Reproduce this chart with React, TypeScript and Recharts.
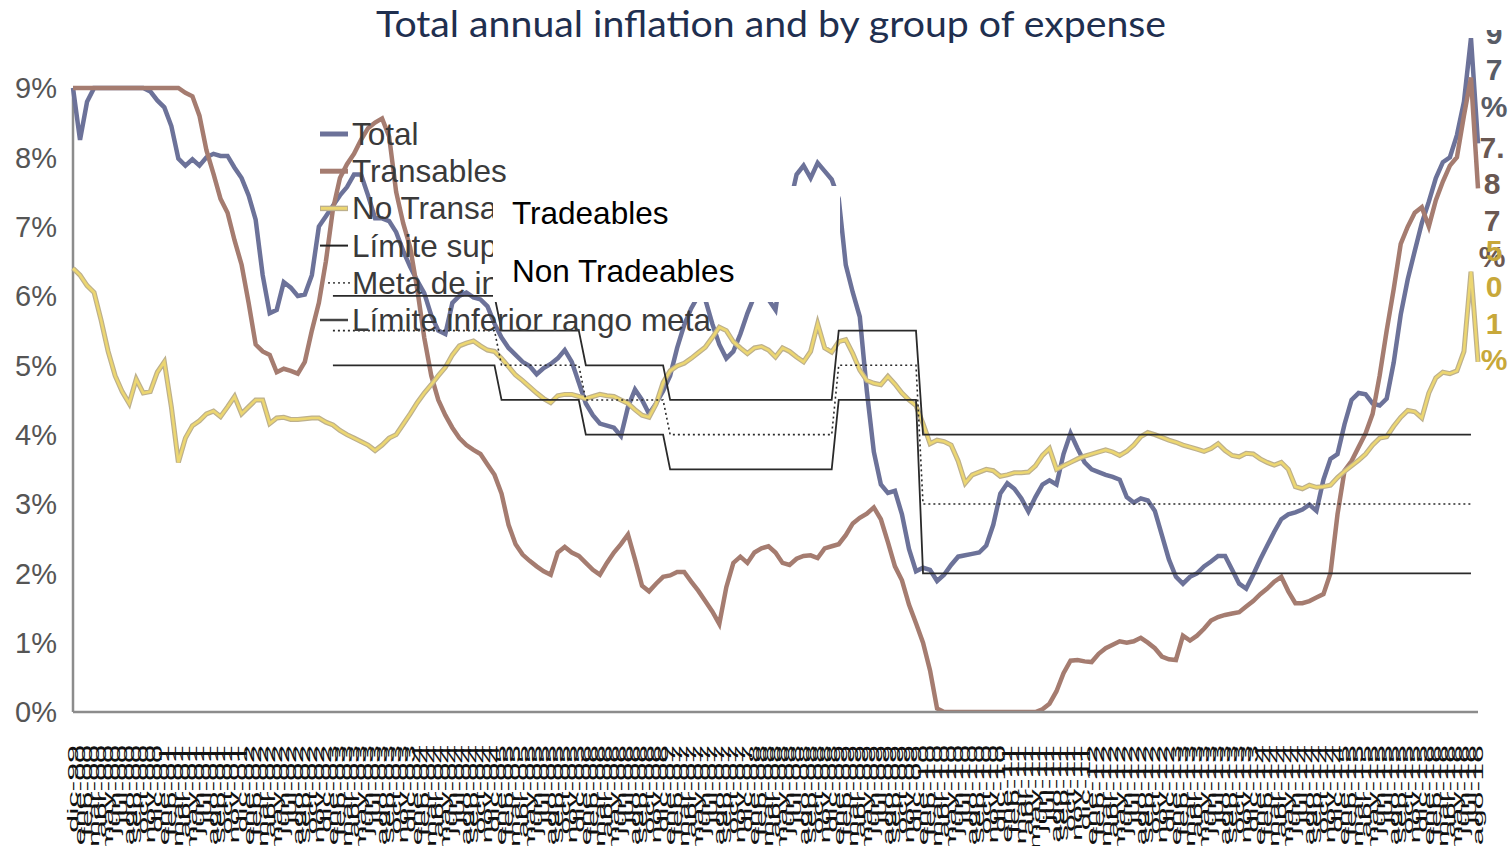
import React from 'react';
import { LineChart, Line, XAxis, YAxis, ReferenceLine } from 'recharts';

// ---------- data ----------
const MONTHS_ES = ['ene', 'feb', 'mar', 'abr', 'may', 'jun', 'jul', 'ago', 'sep', 'oct', 'nov', 'dic'];
const START_YEAR = 1999;
const START_MONTH = 11; // dic-99
const N_MONTHS = 201; // dic-99 .. ago-16

const monthLabels: string[] = Array.from({ length: N_MONTHS }, (_, i) => {
  const m = (START_MONTH + i) % 12;
  const y = START_YEAR + Math.floor((START_MONTH + i) / 12);
  return `${MONTHS_ES[m]}-${String(y % 100).padStart(2, '0')}`;
});

const total = [
  9.0, 8.25, 8.8, 9.0, 9.0, 9.0, 9.0, 9.0, 9.0, 9.0,
  9.0, 8.95, 8.82, 8.72, 8.45, 7.98, 7.88, 7.97, 7.88, 8.0,
  8.05, 8.02, 8.02, 7.85, 7.7, 7.45, 7.1, 6.3, 5.75, 5.8,
  6.2, 6.12, 6.0, 6.02, 6.3, 7.0, 7.15, 7.3, 7.45, 7.57,
  7.75, 7.75, 7.45, 7.12, 7.12, 7.08, 6.92, 6.65, 6.42, 6.22,
  6.04, 5.72, 5.5, 5.45, 5.9, 6.0, 6.05, 5.98, 5.95, 5.85,
  5.6, 5.4, 5.25, 5.15, 5.05, 4.99, 4.87, 4.96, 5.02, 5.1,
  5.22, 5.05, 4.75, 4.45, 4.28, 4.16, 4.13, 4.1, 3.98, 4.4,
  4.65, 4.5, 4.3, 4.45, 4.63, 4.85, 5.25, 5.58, 5.82, 6.0,
  5.95, 5.6, 5.3, 5.1, 5.2, 5.45, 5.75, 6.0, 6.2, 5.95,
  5.8, 6.5, 7.3, 7.75, 7.88, 7.7, 7.92, 7.8, 7.68, 7.4,
  6.45, 6.05, 5.7, 4.63, 3.75, 3.28, 3.16, 3.19, 2.85, 2.35,
  2.03, 2.08, 2.05, 1.89, 1.98, 2.12, 2.24, 2.26, 2.28, 2.3,
  2.4, 2.7, 3.15, 3.3, 3.22, 3.08, 2.89, 3.1, 3.28, 3.34,
  3.28, 3.72, 4.02, 3.8, 3.6, 3.5, 3.46, 3.42, 3.39, 3.35,
  3.1, 3.02, 3.08, 3.05, 2.9, 2.55, 2.2, 1.95, 1.85, 1.95,
  2.0, 2.1, 2.17, 2.25, 2.25, 2.05, 1.85, 1.78, 1.98, 2.2,
  2.4, 2.6, 2.78, 2.85, 2.88, 2.92, 2.99, 2.9, 3.35, 3.65,
  3.72, 4.15, 4.5, 4.6, 4.58, 4.45, 4.42, 4.52, 5.04, 5.73,
  6.24, 6.65, 7.05, 7.36, 7.7, 7.93, 8.0, 8.32, 8.8, 9.72,
  8.2,
];

const transables = [
  9, 9, 9, 9, 9, 9, 9, 9, 9, 9,
  9, 9, 9, 9, 9, 9, 8.93, 8.88, 8.6, 8.1,
  7.76, 7.4, 7.2, 6.8, 6.45, 5.9, 5.3, 5.2, 5.15, 4.9,
  4.95, 4.92, 4.88, 5.05, 5.5, 5.9, 6.5, 7.25, 7.7, 7.9,
  8.05, 8.25, 8.42, 8.5, 8.56, 8.3, 7.5, 7.05, 6.7, 6.1,
  5.4, 4.85, 4.5, 4.28, 4.1, 3.95, 3.85, 3.78, 3.72, 3.57,
  3.42, 3.15, 2.7, 2.42, 2.27, 2.18, 2.1, 2.03, 1.98, 2.3,
  2.38, 2.3, 2.25, 2.15, 2.05, 1.98, 2.15, 2.3, 2.42, 2.56,
  2.2, 1.82, 1.74, 1.85, 1.95, 1.97, 2.02, 2.02, 1.88, 1.75,
  1.6, 1.45, 1.27, 1.8, 2.15, 2.24, 2.15, 2.3, 2.36, 2.39,
  2.3, 2.15, 2.12, 2.21, 2.25, 2.26, 2.22, 2.36, 2.39, 2.42,
  2.55, 2.72, 2.8, 2.86, 2.95, 2.78, 2.45, 2.1, 1.9, 1.55,
  1.28, 1.0, 0.6, 0.05, 0, 0, 0, 0, 0, 0,
  0, 0, 0, 0, 0, 0, 0, 0, 0.04, 0.12,
  0.3, 0.56, 0.74, 0.75, 0.73, 0.72, 0.84, 0.92, 0.97, 1.02,
  1.0, 1.02, 1.07, 1.0, 0.92, 0.8, 0.76, 0.75, 1.1, 1.03,
  1.1, 1.2, 1.32, 1.37, 1.4, 1.42, 1.44, 1.52, 1.6, 1.7,
  1.78, 1.88, 1.95, 1.74, 1.57, 1.57, 1.6, 1.65, 1.7, 2.0,
  2.85, 3.48, 3.62, 3.82, 4.02, 4.3, 4.85, 5.5, 6.1, 6.75,
  7.0, 7.2, 7.28, 7.0, 7.38, 7.65, 7.88, 8.0, 8.6, 9.15,
  7.55,
];

const noTransables = [
  6.4, 6.3, 6.15, 6.05, 5.65, 5.2, 4.85, 4.62, 4.45, 4.8,
  4.6, 4.62, 4.9, 5.05, 4.4, 3.6, 3.95, 4.13, 4.2, 4.3,
  4.34, 4.26, 4.4, 4.55, 4.3, 4.4, 4.5, 4.5, 4.16, 4.24,
  4.25, 4.22, 4.22, 4.23, 4.24, 4.24, 4.18, 4.14, 4.06, 4.0,
  3.95, 3.9, 3.85, 3.77, 3.85, 3.95, 4.0, 4.15, 4.3, 4.46,
  4.6, 4.72, 4.85, 4.97, 5.15, 5.28, 5.32, 5.35, 5.28, 5.22,
  5.2, 5.1, 4.98, 4.86, 4.78, 4.69, 4.6, 4.52, 4.46, 4.56,
  4.58, 4.58, 4.55, 4.52, 4.55, 4.58, 4.56, 4.55, 4.5, 4.45,
  4.36, 4.28, 4.25, 4.44, 4.75, 4.92, 4.99, 5.03, 5.1, 5.18,
  5.26, 5.4, 5.55, 5.5, 5.34, 5.25, 5.17, 5.25, 5.27, 5.22,
  5.12, 5.25, 5.2, 5.12, 5.05, 5.2, 5.6, 5.25, 5.19, 5.34,
  5.37, 5.17, 4.93, 4.78, 4.74, 4.72, 4.84, 4.73, 4.6, 4.5,
  4.42, 4.16, 3.87, 3.92, 3.9, 3.85, 3.62, 3.3, 3.42, 3.46,
  3.5, 3.48, 3.4, 3.42, 3.45, 3.45, 3.46, 3.55, 3.7, 3.8,
  3.5, 3.55, 3.6, 3.65, 3.69, 3.72, 3.75, 3.78, 3.75, 3.7,
  3.76, 3.85, 3.97, 4.03, 4.0, 3.96, 3.92, 3.89, 3.85, 3.82,
  3.79, 3.76, 3.8, 3.87, 3.77, 3.7, 3.68, 3.73, 3.72, 3.65,
  3.6, 3.56, 3.6, 3.5, 3.25, 3.22, 3.27, 3.24, 3.25, 3.27,
  3.38, 3.47, 3.55, 3.63, 3.72, 3.85, 3.95, 3.97, 4.12, 4.25,
  4.35, 4.33, 4.24, 4.6, 4.82, 4.9, 4.88, 4.92, 5.2, 6.35,
  5.05,
];

// Inflation target range by year (upper / target / lower), shown until jul-16
const targetYears = [2003, 2004, 2005, 2006, 2007, 2008, 2009, 2010, 2011, 2012, 2013, 2014, 2015, 2016];
const upperTarget = [6, 6, 5.5, 5, 4.5, 4.5, 5.5, 4, 4, 4, 4, 4, 4, 4];
const metaTarget = [5.5, 5.5, 5, 4.5, 4, 4, 5, 3, 3, 3, 3, 3, 3, 3];
const lowerTarget = [5, 5, 4.5, 4, 3.5, 3.5, 4.5, 2, 2, 2, 2, 2, 2, 2];
const TARGET_LAST_INDEX = 199; // jul-16

const yTicks = [0, 1, 2, 3, 4, 5, 6, 7, 8, 9];

const legendItems = [
  'Total',
  'Transables',
  'No Transables',
  'Límite superior rango meta',
  'Meta de inflación',
  'Límite inferior rango meta',
];

const rows = monthLabels.map((month, i) => {
  const year = START_YEAR + Math.floor((START_MONTH + i) / 12);
  const k = targetYears.indexOf(year);
  const hasTarget = k >= 0 && i <= TARGET_LAST_INDEX;
  return {
    month,
    total: total[i],
    transables: transables[i],
    noTransables: noTransables[i],
    upper: hasTarget ? upperTarget[k] : null,
    meta: hasTarget ? metaTarget[k] : null,
    lower: hasTarget ? lowerTarget[k] : null,
  };
});

// ---------- styling ----------
const W = 1509;
const H = 846;
const C_TOTAL = '#6c7299';
const C_TRANS = '#a57c70';
const C_NOTRANS = '#ecd671';
const C_NOTRANS_EDGE = '#bdb08c';
const SANS = '"Liberation Sans", Arial, sans-serif';

function XTick(props: any) {
  const { x, y, payload } = props;
  return (
    <text
      transform={`translate(${x},${y + 33}) scale(1,2.3) rotate(-90)`}
      textAnchor="end"
      dy="0.35em"
      fontSize={14}
      fontFamily={SANS}
      fill="#111"
    >
      {payload.value}
    </text>
  );
}

function VerticalLabel({ chars, x, y0, color }: { chars: string[]; x: number; y0: number; color: string }) {
  return (
    <g>
      {chars.map((c, i) => (
        <text
          key={i}
          x={x}
          y={y0 + i * 36.5}
          textAnchor="middle"
          dominantBaseline="central"
          fontSize={30}
          fontWeight="bold"
          fontFamily={SANS}
          fill={color}
        >
          {c}
        </text>
      ))}
    </g>
  );
}

export default function App() {
  const legendY0 = 134;
  const legendStep = 37.2;
  return (
    <div style={{ position: 'absolute', left: 0, top: 0, width: W, height: H, background: '#fff', overflow: 'hidden' }}>
      <LineChart width={W} height={H} data={rows} margin={{ top: 38, right: 31, bottom: 0, left: 0 }}>
        <XAxis
          dataKey="month"
          interval={0}
          height={134}
          tickSize={0}
          tickMargin={0}
          tickLine={false}
          axisLine={{ stroke: '#8c8c8c', strokeWidth: 2.5 }}
          tick={<XTick />}
        />
        <YAxis
          domain={[0, 9.72]}
          ticks={yTicks}
          allowDataOverflow
          width={73}
          tickSize={0}
          tickMargin={16}
          tickLine={false}
          axisLine={false}
          tickFormatter={(v: number) => `${v}%`}
          tick={{ fontSize: 29, fill: '#555', fontFamily: SANS }}
        />
        <ReferenceLine
          segment={[
            { x: monthLabels[0], y: 0 },
            { x: monthLabels[0], y: 9 },
          ]}
          stroke="#8c8c8c"
          strokeWidth={2.5}
        />
        <Line dataKey="total" stroke={C_TOTAL} strokeWidth={4.5} dot={false} activeDot={false} isAnimationActive={false} />
        <Line dataKey="transables" stroke={C_TRANS} strokeWidth={4.5} dot={false} activeDot={false} isAnimationActive={false} />
        <Line dataKey="noTransables" stroke={C_NOTRANS_EDGE} strokeWidth={5} dot={false} activeDot={false} isAnimationActive={false} />
        <Line dataKey="noTransables" stroke={C_NOTRANS} strokeWidth={2.6} dot={false} activeDot={false} isAnimationActive={false} />
        <Line dataKey="upper" stroke="#2a2a2a" strokeWidth={1.8} dot={false} activeDot={false} isAnimationActive={false} />
        <Line dataKey="meta" stroke="#2a2a2a" strokeWidth={1.6} strokeDasharray="2 3" dot={false} activeDot={false} isAnimationActive={false} />
        <Line dataKey="lower" stroke="#2a2a2a" strokeWidth={1.8} dot={false} activeDot={false} isAnimationActive={false} />
      </LineChart>

      <svg width={W} height={H} style={{ position: 'absolute', left: 0, top: 0, pointerEvents: 'none' }}>
        <defs>
          <clipPath id="topLabelClip">
            <rect x={1470} y={30} width={39} height={816} />
          </clipPath>
        </defs>
        <text
          x={771}
          y={37}
          textAnchor="middle"
          fontFamily="Lato, 'Open Sans', sans-serif"
          fontSize={37}
          fill="#1f2f4f"
          textLength={790}
          lengthAdjust="spacingAndGlyphs"
        >
          Total annual inflation and by group of expense
        </text>

        {/* legend */}
        <g>
          <line x1={320} x2={348} y1={legendY0} y2={legendY0} stroke={C_TOTAL} strokeWidth={5} />
          <line x1={320} x2={348} y1={legendY0 + legendStep} y2={legendY0 + legendStep} stroke={C_TRANS} strokeWidth={5} />
          <line x1={320} x2={348} y1={legendY0 + 2 * legendStep} y2={legendY0 + 2 * legendStep} stroke={C_NOTRANS_EDGE} strokeWidth={5.5} />
          <line x1={321} x2={347} y1={legendY0 + 2 * legendStep} y2={legendY0 + 2 * legendStep} stroke={C_NOTRANS} strokeWidth={2.8} />
          <line x1={320} x2={348} y1={legendY0 + 3 * legendStep} y2={legendY0 + 3 * legendStep} stroke="#222" strokeWidth={2} />
          <line x1={328} x2={350} y1={legendY0 + 4 * legendStep} y2={legendY0 + 4 * legendStep} stroke="#555" strokeWidth={1.8} strokeDasharray="2 3" />
          <line x1={320} x2={348} y1={legendY0 + 5 * legendStep} y2={legendY0 + 5 * legendStep} stroke="#444" strokeWidth={2.5} />
          {legendItems.map((t, i) => (
            <text
              key={t}
              x={352}
              y={legendY0 + i * legendStep}
              dominantBaseline="central"
              fontSize={31.5}
              fontFamily={SANS}
              fill="#3a3a3a"
            >
              {t}
            </text>
          ))}
        </g>

        {/* pasted white box with English labels */}
        <rect x={493} y={186} width={347} height={116} fill="#fff" />
        <text x={512} y={213} dominantBaseline="central" fontSize={31.5} fontFamily={SANS} fill="#000">
          Tradeables
        </text>
        <text x={512} y={271} dominantBaseline="central" fontSize={31.5} fontFamily={SANS} fill="#000">
          Non Tradeables
        </text>

        {/* end-of-series labels */}
        <g clipPath="url(#topLabelClip)">
          <VerticalLabel chars={['9', '7', '%']} x={1494} y0={33} color="#585c66" />
        </g>
        <VerticalLabel chars={['7.', '8', '7', '%']} x={1492} y0={147} color="#6a5852" />
        <VerticalLabel chars={['5', '0', '1', '%']} x={1494} y0={250} color="#c8a83a" />
      </svg>
    </div>
  );
}
